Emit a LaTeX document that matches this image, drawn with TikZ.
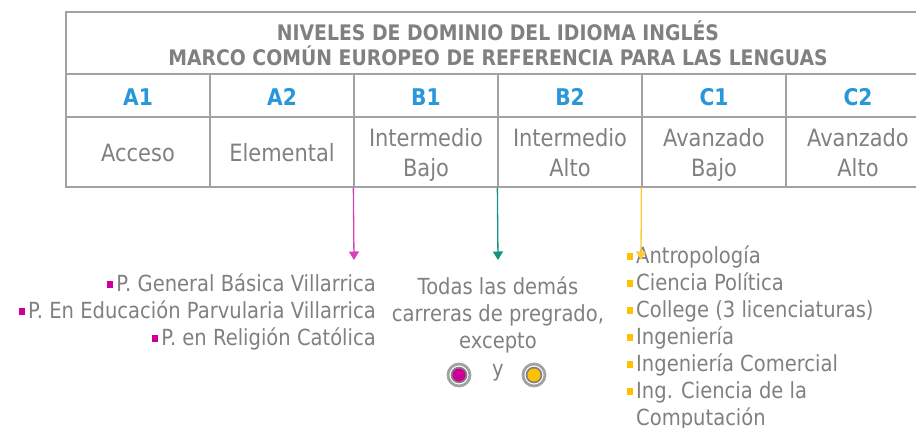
\documentclass[tikz,border=0pt]{standalone}
\usepackage{fontspec}
\setmainfont{DejaVu Sans}[FakeStretch=0.88]
\usepackage{xcolor}
\usetikzlibrary{arrows.meta, positioning, calc}

\definecolor{txtgray}{RGB}{128,128,128}
\definecolor{linegray}{RGB}{162,162,162}
\definecolor{lvlblue}{RGB}{41,152,219}
\definecolor{magbul}{RGB}{204,0,153}
\definecolor{tealbul}{RGB}{18,148,128}
\definecolor{goldbul}{RGB}{255,192,0}

\newcommand{\sqbul}[1]{\textcolor{#1}{\rule[3.2pt]{6.5pt}{6.5pt}}\hspace{3pt}}
\newcommand{\cellstrut}{\vrule width 0pt height 24pt depth 6pt\relax}

\begin{document}
\begin{tikzpicture}[x=1pt, y=-1pt,
    header/.style={rectangle, draw=linegray, line width=1.3pt, minimum width=864pt, minimum height=62pt, align=center, text=txtgray, font=\fontsize{21.4}{25}\selectfont\bfseries},
    level/.style={rectangle, draw=linegray, line width=1.3pt, minimum width=144pt, minimum height=43pt, text height=20.5pt, text depth=0pt, text=lvlblue, font=\fontsize{23}{25}\selectfont\bfseries},
    levelname/.style={rectangle, draw=linegray, line width=1.3pt, minimum width=144pt, minimum height=70pt, align=center, text=txtgray, font=\fontsize{23.8}{30}\selectfont},
    items/.style={inner sep=0pt, text=txtgray, font=\fontsize{22.2}{27}\selectfont},
    pointer/.style={-{Triangle[width=10pt,length=8.5pt]}, line width=1.3pt},
    expdot/.style={circle, draw=linegray, line width=2.8pt, fill=white, minimum size=22pt, inner sep=0pt,
        path picture={\fill[txtgray] (path picture bounding box.center) circle (8.3pt);
                      \fill[#1] (path picture bounding box.center) circle (6.5pt);}}
]
    \useasboundingbox (0,0) rectangle (916,428);
    \clip (0,0) rectangle (916,428);

    % Title
    \node[header] (title) at (498,43) {NIVELES DE DOMINIO DEL IDIOMA INGLÉS \\ MARCO COMÚN EUROPEO DE REFERENCIA PARA LAS LENGUAS};

    % Levels
    \node[level] (a1) at (138,95.5) {A1};
    \node[level] (a2) at (282,95.5) {A2};
    \node[level] (b1) at (426,95.5) {B1};
    \node[level] (b2) at (570,95.5) {B2};
    \node[level] (c1) at (714,95.5) {C1};
    \node[level] (c2) at (858,95.5) {C2};

    % Level names
    \node[levelname] (a1n) at (138,152) {\cellstrut Acceso};
    \node[levelname] (a2n) at (282,152) {\cellstrut Elemental};
    \node[levelname] (b1n) at (426,152) {\cellstrut Intermedio \\ \cellstrut Bajo};
    \node[levelname] (b2n) at (570,152) {\cellstrut Intermedio \\ \cellstrut Alto};
    \node[levelname] (c1n) at (714,152) {\cellstrut Avanzado \\ \cellstrut Bajo};
    \node[levelname] (c2n) at (858,152) {\cellstrut Avanzado \\ \cellstrut Alto};

    % Programs
    \node[items, align=right, anchor=east] (magprog) at (376,311.5) {\sqbul{magbul}P. General Básica Villarrica \\ \sqbul{magbul}P. En Educación Parvularia Villarrica \\ \sqbul{magbul}P. en Religión Católica};
    \node[items, align=center] (others) at (498,315) {Todas las demás \\ carreras de pregrado, \\ excepto};
    \node[items, align=left, anchor=west] (goldprog) at (636,337.5) {\llap{\sqbul{goldbul}}Antropología \\ \llap{\sqbul{goldbul}}Ciencia Política \\ \llap{\sqbul{goldbul}}College (3 licenciaturas) \\ \llap{\sqbul{goldbul}}Ingeniería \\ \llap{\sqbul{goldbul}}Ingeniería Comercial \\ \llap{\sqbul{goldbul}}Ing. Ciencia de la \\ Computación};

    % Exceptions
    \node[expdot=magbul] (magdot) at (459,375) {};
    \node[items] (and) at (498,373) {y};
    \node[expdot=goldbul] (golddot) at (534,375) {};

    % Pointers
    \coordinate (magtip) at (354,260);
    \coordinate (tealtip) at (498,260);
    \coordinate (goldtip) at (641,260);
    \draw[pointer, draw=magbul!75, fill=magbul] (b1n.south west) -- (magtip);
    \draw[pointer, draw=tealbul, fill=tealbul] (b2n.south west) -- (tealtip);
    \draw[pointer, draw=goldbul!80, fill=goldbul] (c1n.south west) -- (goldtip);

\end{tikzpicture}
\end{document}
